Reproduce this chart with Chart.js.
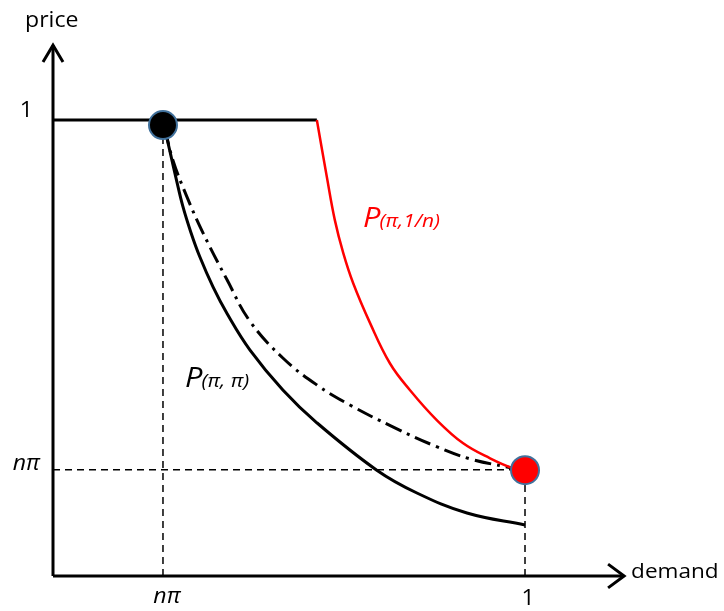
<!DOCTYPE html>
<html>
<head>
<meta charset="utf-8">
<script src="https://cdn.jsdelivr.net/npm/chart.js@4.4.1/dist/chart.umd.min.js"></script>
<style>
  html, body { margin: 0; padding: 0; background: #ffffff; }
  #wrap { width: 724px; height: 611px; }
</style>
</head>
<body>
<div id="wrap"><canvas id="c" width="724" height="611"></canvas></div>
<script>
// ---- data ----
const nPi = 0.233;            // position of nπ on both axes
const yTip = 1.164;           // top of price axis arrow
const xTip = 1.21;            // end of demand axis arrow

const flatX  = [0, 0.559];
const flatY  = [1, 1];

const redX   = [0.559, 0.580, 0.597, 0.615, 0.636, 0.672, 0.714, 0.756, 0.813, 0.869, 0.926, 0.975, 1.000];
const redY   = [1.000, 0.876, 0.781, 0.708, 0.642, 0.554, 0.466, 0.408, 0.342, 0.291, 0.258, 0.236, 0.232];

const solidX = [0.235, 0.248, 0.261, 0.275, 0.292, 0.311, 0.339, 0.369, 0.417, 0.487, 0.559, 0.686, 0.771, 0.877, 1.000];
const solidY = [0.989, 0.930, 0.871, 0.811, 0.754, 0.700, 0.634, 0.575, 0.496, 0.408, 0.336, 0.232, 0.182, 0.138, 0.112];

const dashDotX = [0.237, 0.254, 0.284, 0.318, 0.369, 0.417, 0.487, 0.559, 0.629, 0.720, 0.814, 0.883, 0.962, 1.000];
const dashDotY = [0.982, 0.912, 0.831, 0.752, 0.649, 0.559, 0.478, 0.419, 0.375, 0.327, 0.283, 0.257, 0.239, 0.232];

const pointX = [0.233, 1.0];
const pointY = [0.989, 0.232];
const pointColors = ['#000000', '#FF0000'];

const xTickValues = [nPi, 1];
const xTickLabels = ['nπ', '1'];
const yTickValues = [nPi, 1];
const yTickLabels = ['nπ', '1'];
const axisTitles = ['demand', 'price'];
const curveLabels = [['P', '(π,1/n)'], ['P', '(π, π)']];

const zip = (xs, ys) => xs.map((x, i) => ({ x: x, y: ys[i] }));

// ---- text plugin ----
const textPlugin = {
  id: 'texts',
  afterDatasetsDraw(chart) {
    const ctx = chart.ctx;
    const xs = chart.scales.x, ys = chart.scales.y;
    const X = v => xs.getPixelForValue(v), Y = v => ys.getPixelForValue(v);
    const stretch = 1.1;
    function txt(s, x, y, font, color, align) {
      ctx.save();
      ctx.font = font;
      ctx.fillStyle = color;
      ctx.textBaseline = 'alphabetic';
      const w = ctx.measureText(s).width * stretch;
      let left = x;
      if (align === 'center') left = x - w / 2;
      if (align === 'right') left = x - w;
      ctx.translate(left, y);
      ctx.scale(stretch, 1);
      ctx.textAlign = 'left';
      ctx.fillText(s, 0, 0);
      ctx.restore();
      return w;
    }
    const F = '"Open Sans", sans-serif';
    // axis titles
    txt(axisTitles[1], X(0) - 28, Y(yTip) - 18, '21px ' + F, '#000', 'left');
    txt(axisTitles[0], X(xTip) + 7, Y(0) + 2, '20.5px ' + F, '#000', 'left');
    // y ticks
    txt(yTickLabels[1], X(0) - 20, Y(yTickValues[1]) - 3, '21px ' + F, '#000', 'right');
    txt(yTickLabels[0], X(0) - 13, Y(yTickValues[0]) + 0, 'italic 21px ' + F, '#000', 'right');
    // x ticks
    txt(xTickLabels[0], X(xTickValues[0]) + 4, Y(0) + 27, 'italic 21px ' + F, '#000', 'center');
    txt(xTickLabels[1], X(xTickValues[1]) + 3, Y(0) + 29, '21px ' + F, '#000', 'center');
    // curve labels
    let w = txt(curveLabels[0][0], 363, 227, 'italic 28px ' + F, '#FF0000', 'left');
    txt(curveLabels[0][1], 363 + w - 1, 227, 'italic 19px ' + F, '#FF0000', 'left');
    w = txt(curveLabels[1][0], 185, 387, 'italic 28px ' + F, '#000', 'left');
    txt(curveLabels[1][1], 185 + w - 1, 387, 'italic 19px ' + F, '#000', 'left');
  }
};

const dashed = { borderColor: '#000', borderWidth: 1.5, borderDash: [7, 5], pointRadius: 0, fill: false, tension: 0 };

new Chart(document.getElementById('c'), {
  type: 'line',
  data: {
    datasets: [
      { label: 'points', type: 'scatter', data: zip(pointX, pointY), pointRadius: 14, pointHoverRadius: 14,
        backgroundColor: pointColors, borderColor: '#41719C', borderWidth: 2, order: 0 },
      { label: 'red', data: zip(redX, redY), borderColor: '#FF0000', borderWidth: 2.5, pointRadius: 0,
        tension: 0.4, fill: false, order: 1 },
      { label: 'solid', data: zip(solidX, solidY), borderColor: '#000', borderWidth: 3, pointRadius: 0,
        tension: 0.4, fill: false, order: 1 },
      { label: 'dashdot', data: zip(dashDotX, dashDotY), borderColor: '#000', borderWidth: 3, borderDash: [17, 6, 3, 6],
        pointRadius: 0, tension: 0.4, fill: false, order: 1 },
      { label: 'flat', data: zip(flatX, flatY), borderColor: '#000', borderWidth: 3, pointRadius: 0, fill: false, order: 1 },
      Object.assign({ label: 'hNPi', data: [{ x: 0, y: nPi }, { x: 1, y: nPi }], order: 2 }, dashed),
      Object.assign({ label: 'vNPi', data: [{ x: nPi, y: 0 }, { x: nPi, y: 0.99 }], order: 2 }, dashed),
      Object.assign({ label: 'v1', data: [{ x: 1, y: 0 }, { x: 1, y: 0.232 }], order: 2 }, dashed),
      { label: 'yAxis', data: [{ x: 0, y: 0 }, { x: 0, y: yTip }], borderColor: '#000', borderWidth: 3, pointRadius: 0, order: 1 },
      { label: 'xAxis', data: [{ x: 0, y: 0 }, { x: xTip, y: 0 }], borderColor: '#000', borderWidth: 3, pointRadius: 0, order: 1 },
      { label: 'yArrow', data: [{ x: -0.0212, y: yTip - 0.037 }, { x: 0, y: yTip }, { x: 0.0212, y: yTip - 0.037 }],
        borderColor: '#000', borderWidth: 3, pointRadius: 0, borderJoinStyle: 'miter', order: 1 },
      { label: 'xArrow', data: [{ x: xTip - 0.034, y: 0.026 }, { x: xTip, y: 0 }, { x: xTip - 0.034, y: -0.026 }],
        borderColor: '#000', borderWidth: 3, pointRadius: 0, borderJoinStyle: 'miter', order: 1 }
    ]
  },
  options: {
    responsive: false,
    animation: false,
    layout: { padding: 0, autoPadding: false },
    plugins: { legend: { display: false }, tooltip: { enabled: false } },
    elements: { line: { clip: false } },
    scales: {
      x: { type: 'linear', display: false, min: -0.1123, max: 1.4216 },
      y: { type: 'linear', display: false, min: -0.0768, max: 1.2632 }
    }
  },
  plugins: [textPlugin]
});
</script>
</body>
</html>
